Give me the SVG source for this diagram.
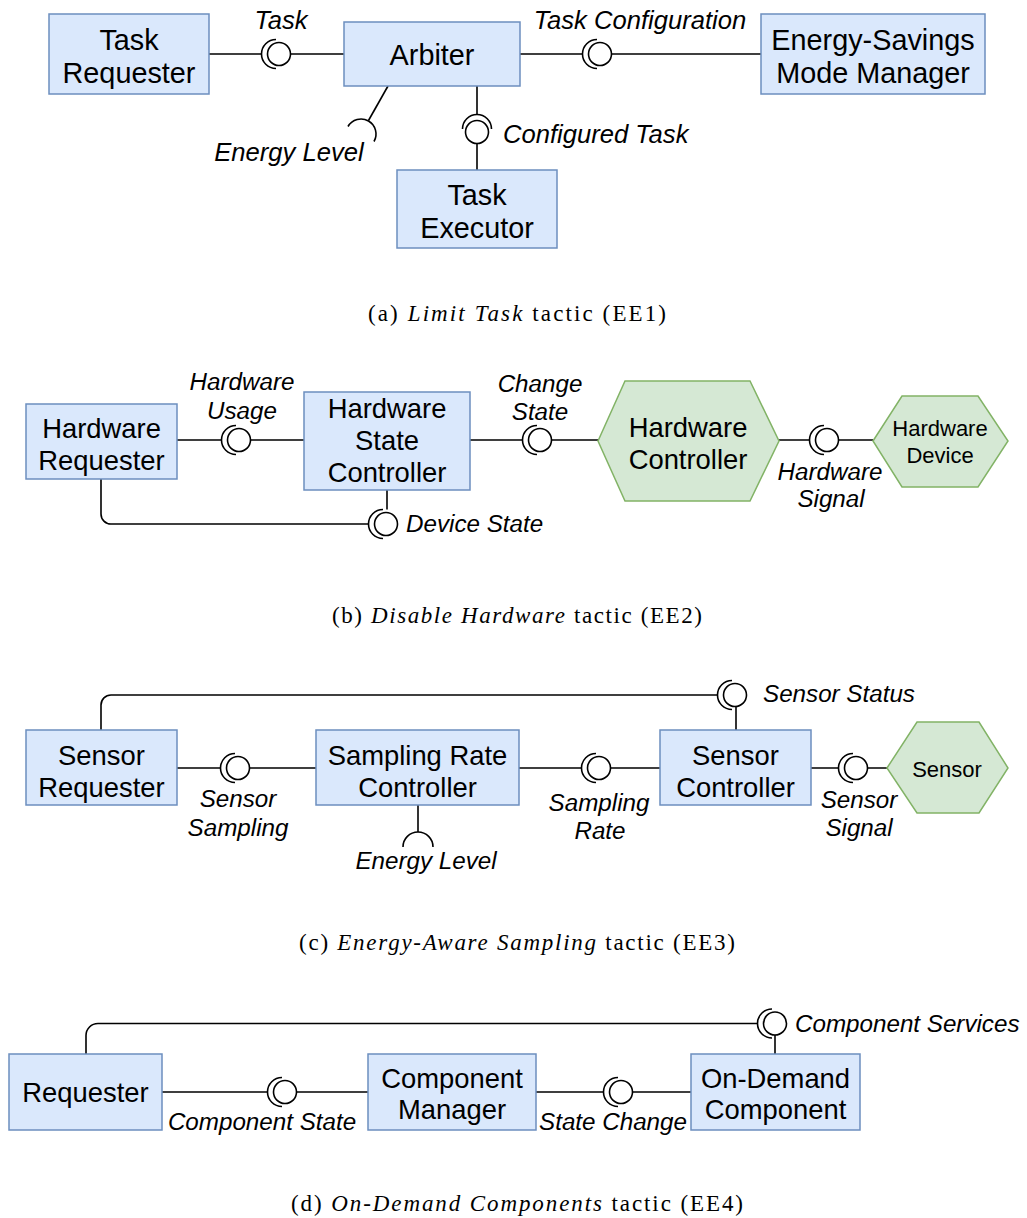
<svg xmlns="http://www.w3.org/2000/svg" xmlns:xlink="http://www.w3.org/1999/xlink" width="1027" height="1218" viewBox="0 0 1027 1218">
  <style>
    .box { fill: #dae8fc; stroke: #6c8ebf; stroke-width: 1.5; }
    .hex { fill: #d5e8d4; stroke: #82b366; stroke-width: 1.5; }
    .n { font-family: "Liberation Sans", Arial, sans-serif; font-size: 27.4px; text-anchor: middle; fill: #000; }
    .na { font-size: 28.8px; }
    .s { font-family: "Liberation Sans", Arial, sans-serif; font-size: 22px; text-anchor: middle; fill: #000; }
    .l { font-family: "Liberation Sans", Arial, sans-serif; font-size: 24.2px; font-style: italic; text-anchor: middle; fill: #000; }
    .la { font-size: 25.6px; }
    .ls { text-anchor: start; }
    .cap { font-family: "Liberation Serif", "Times New Roman", serif; font-size: 23px; fill: #000; }
    .it { font-style: italic; }
    .wire { fill: none; stroke: #000; stroke-width: 1.6; }
    .ball { fill: #fff; stroke: #000; stroke-width: 1.6; }
  </style>
  <defs>
    <!-- provided/required interface: ball with the socket arc on its left -->
    <g id="lollipop">
      <path class="wire" d="M -3 -14.5 A 14.5 14.5 0 0 0 -3 14.5"/>
      <circle class="ball" cx="0" cy="0" r="11.5"/>
    </g>
  </defs>
  <rect width="1027" height="1218" fill="#fff"/>

  <!-- connectors -->
  <g id="connectors">
    <!-- (a) -->
    <path class="wire" d="M209 54 H261.5 M290.5 54 H344"/>
    <use xlink:href="#lollipop" href="#lollipop" x="279" y="54"/>
    <path class="wire" d="M520 54 H582.5 M611.5 54 H761"/>
    <use xlink:href="#lollipop" href="#lollipop" x="600" y="54"/>
    <path class="wire" d="M477 86 V114.5 M477 143.5 V170"/>
    <g transform="translate(477 132) rotate(90)"><use xlink:href="#lollipop" href="#lollipop"/></g>
    <path class="wire" d="M388 86 L368.5 120.5"/>
    <path class="wire" d="M348 126.5 A 15 15 0 0 1 374 141.5"/>

    <!-- (b) -->
    <path class="wire" d="M177 440 H221.5 M250.5 440 H304"/>
    <use xlink:href="#lollipop" href="#lollipop" x="239" y="440"/>
    <path class="wire" d="M470 440 H522.5 M551.5 440 H598"/>
    <use xlink:href="#lollipop" href="#lollipop" x="540" y="440"/>
    <path class="wire" d="M779 440 H809.5 M838.5 440 H873"/>
    <use xlink:href="#lollipop" href="#lollipop" x="827" y="440"/>
    <path class="wire" d="M101 479 V514 A 10 10 0 0 0 111 524 H368.5"/>
    <path class="wire" d="M387 490 V509.5"/>
    <use xlink:href="#lollipop" href="#lollipop" x="386" y="524"/>

    <!-- (c) -->
    <path class="wire" d="M177 768 H220.5 M249.5 768 H316"/>
    <use xlink:href="#lollipop" href="#lollipop" x="238" y="768"/>
    <path class="wire" d="M519 768 H581.5 M610.5 768 H660"/>
    <use xlink:href="#lollipop" href="#lollipop" x="599" y="768"/>
    <path class="wire" d="M811 768 H838.5 M867.5 768 H887"/>
    <use xlink:href="#lollipop" href="#lollipop" x="856" y="768"/>
    <path class="wire" d="M101 730 V705 A 10 10 0 0 1 111 695 H717.5"/>
    <path class="wire" d="M736 730 V706.5"/>
    <use xlink:href="#lollipop" href="#lollipop" x="735" y="695"/>
    <path class="wire" d="M418 805 V832"/>
    <path class="wire" d="M403 847 A 15 15 0 0 1 433 847"/>

    <!-- (d) -->
    <path class="wire" d="M162 1092 H267.5 M296.5 1092 H368"/>
    <use xlink:href="#lollipop" href="#lollipop" x="285" y="1092"/>
    <path class="wire" d="M536 1092 H603.5 M632.5 1092 H691"/>
    <use xlink:href="#lollipop" href="#lollipop" x="621" y="1092"/>
    <path class="wire" d="M86 1054 V1035.5 A 12 12 0 0 1 98 1023.5 H757.5"/>
    <path class="wire" d="M775 1054 V1035"/>
    <use xlink:href="#lollipop" href="#lollipop" x="775" y="1023.5"/>
  </g>

  <!-- connector labels -->
  <g id="labels">
    <text class="l la" x="281" y="28.5">Task</text>
    <text class="l la" x="640" y="28.5">Task Configuration</text>
    <text class="l la ls" x="503" y="142.5">Configured Task</text>
    <text class="l la" x="289" y="160.5">Energy Level</text>

    <text class="l" x="242" y="389.5">Hardware</text>
    <text class="l" x="242" y="418.5">Usage</text>
    <text class="l" x="540" y="391.5">Change</text>
    <text class="l" x="540" y="419.5">State</text>
    <text class="l" x="830" y="479.5">Hardware</text>
    <text class="l" x="831" y="506.5">Signal</text>
    <text class="l ls" x="406" y="532">Device State</text>

    <text class="l ls" x="763" y="702">Sensor Status</text>
    <text class="l" x="238" y="807">Sensor</text>
    <text class="l" x="238" y="836">Sampling</text>
    <text class="l" x="599" y="811">Sampling</text>
    <text class="l" x="600" y="839">Rate</text>
    <text class="l" x="859" y="808">Sensor</text>
    <text class="l" x="859" y="836">Signal</text>
    <text class="l" x="426" y="869">Energy Level</text>

    <text class="l ls" x="795" y="1032">Component Services</text>
    <text class="l" x="262" y="1130">Component State</text>
    <text class="l" x="613" y="1130">State Change</text>
  </g>

  <!-- (a) Limit Task -->
  <g id="task-requester">
    <rect class="box" x="49" y="14" width="160" height="80"/>
    <text class="n na" x="129" y="50">Task</text>
    <text class="n na" x="129" y="83">Requester</text>
  </g>
  <g id="arbiter">
    <rect class="box" x="344" y="22" width="176" height="64"/>
    <text class="n na" x="432" y="65">Arbiter</text>
  </g>
  <g id="energy-savings-mode-manager">
    <rect class="box" x="761" y="14" width="224" height="80"/>
    <text class="n na" x="873" y="50">Energy-Savings</text>
    <text class="n na" x="873" y="83">Mode Manager</text>
  </g>
  <g id="task-executor">
    <rect class="box" x="397" y="170" width="160" height="78"/>
    <text class="n na" x="477" y="205">Task</text>
    <text class="n na" x="477" y="238">Executor</text>
  </g>

  <!-- (b) Disable Hardware -->
  <g id="hardware-requester">
    <rect class="box" x="26" y="404" width="151" height="75"/>
    <text class="n" x="101.5" y="437.5">Hardware</text>
    <text class="n" x="101.5" y="469.5">Requester</text>
  </g>
  <g id="hardware-state-controller">
    <rect class="box" x="304" y="392" width="166" height="98"/>
    <text class="n" x="387" y="418">Hardware</text>
    <text class="n" x="387" y="450">State</text>
    <text class="n" x="387" y="482">Controller</text>
  </g>
  <g id="hardware-controller">
    <polygon class="hex" points="598,441 625,381 750,381 779,441 750,501 625,501"/>
    <text class="n" x="688" y="437">Hardware</text>
    <text class="n" x="688" y="469">Controller</text>
  </g>
  <g id="hardware-device">
    <polygon class="hex" points="873,441 902,396 978,396 1008,441 978,487 902,487"/>
    <text class="s" x="940" y="436">Hardware</text>
    <text class="s" x="940" y="463">Device</text>
  </g>

  <!-- (c) Energy-Aware Sampling -->
  <g id="sensor-requester">
    <rect class="box" x="26" y="730" width="151" height="75"/>
    <text class="n" x="101.5" y="765">Sensor</text>
    <text class="n" x="101.5" y="797">Requester</text>
  </g>
  <g id="sampling-rate-controller">
    <rect class="box" x="316" y="730" width="203" height="75"/>
    <text class="n" x="417.5" y="765">Sampling Rate</text>
    <text class="n" x="417.5" y="797">Controller</text>
  </g>
  <g id="sensor-controller">
    <rect class="box" x="660" y="730" width="151" height="75"/>
    <text class="n" x="735.5" y="765">Sensor</text>
    <text class="n" x="735.5" y="797">Controller</text>
  </g>
  <g id="sensor">
    <polygon class="hex" points="887,768 917,722 979,722 1008,768 979,813 917,813"/>
    <text class="s" x="947" y="777">Sensor</text>
  </g>

  <!-- (d) On-Demand Components -->
  <g id="requester">
    <rect class="box" x="9" y="1054" width="153" height="76"/>
    <text class="n" x="85.5" y="1102">Requester</text>
  </g>
  <g id="component-manager">
    <rect class="box" x="368" y="1054" width="168" height="76"/>
    <text class="n" x="452" y="1087.5">Component</text>
    <text class="n" x="452" y="1119">Manager</text>
  </g>
  <g id="on-demand-component">
    <rect class="box" x="691" y="1054" width="169" height="76"/>
    <text class="n" x="775.5" y="1087.5">On-Demand</text>
    <text class="n" x="775.5" y="1119">Component</text>
  </g>

  <!-- sub-figure captions -->
  <g id="captions">
    <text class="cap" x="368" y="320.5" textLength="298" lengthAdjust="spacing">(a) <tspan class="it">Limit Task</tspan> tactic (EE1)</text>
    <text class="cap" x="332" y="622.5" textLength="370" lengthAdjust="spacing">(b) <tspan class="it">Disable Hardware</tspan> tactic (EE2)</text>
    <text class="cap" x="299" y="949.5" textLength="436" lengthAdjust="spacing">(c) <tspan class="it">Energy-Aware Sampling</tspan> tactic (EE3)</text>
    <text class="cap" x="291" y="1210.5" textLength="452" lengthAdjust="spacing">(d) <tspan class="it">On-Demand Components</tspan> tactic (EE4)</text>
  </g>
</svg>
